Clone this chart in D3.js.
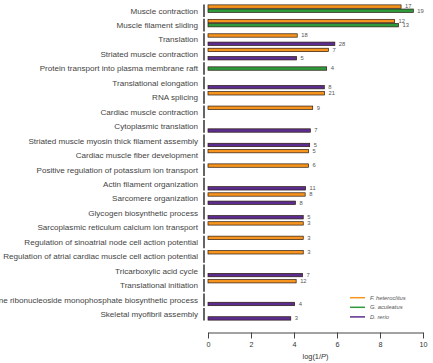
<!DOCTYPE html>
<meta charset="utf-8">
<style>
body { margin: 0; background: #fff; }
text { font-family: "Liberation Sans", Arial, sans-serif; }
</style>
<svg id="chart" width="433" height="363"></svg>
<script src="https://d3js.org/d3.v7.min.js"></script>
<script>

var svg = d3.select("svg#chart");

var categories = [
	"Muscle contraction",
	"Muscle filament sliding",
	"Translation",
	"Striated muscle contraction",
	"Protein transport into plasma membrane raft",
	"Translational elongation",
	"RNA splicing",
	"Cardiac muscle contraction",
	"Cytoplasmic translation",
	"Striated muscle myosin thick filament assembly",
	"Cardiac muscle fiber development",
	"Positive regulation of potassium ion transport",
	"Actin filament organization",
	"Sarcomere organization",
	"Glycogen biosynthetic process",
	"Sarcoplasmic reticulum calcium ion transport",
	"Regulation of sinoatrial node cell action potential",
	"Regulation of atrial cardiac muscle cell action potential",
	"Tricarboxylic acid cycle",
	"Translational initiation",
	"Purine ribonucleoside monophosphate biosynthetic process",
	"Skeletal myofibril assembly"
];

var species = ["F. heteroclitus", "G. aculeatus", "D. rerio"];
var colors = ["#f7941d", "#2e9a3c", "#5c2d8e"];

// log(1/P) per species, null = not enriched
var fValues = [8.98, 8.68, 4.15, 5.6, null, null, 5.42, 4.87, null, null, 4.68, 4.68, null, 4.52, null, 4.43, 4.43, 4.43, null, 4.1, null, null];
var gValues = [9.55, 8.86, null, null, 5.52, null, null, null, null, null, null, null, null, null, null, null, null, null, null, null, null, null];
var dValues = [null, null, 5.9, 4.12, null, 5.41, null, null, 4.76, 4.73, null, null, 4.54, 4.07, 4.43, null, null, null, 4.4, null, 4.03, 3.85];

// gene counts shown next to bars
var fCounts = [17, 12, 18, 7, null, null, 21, 9, null, null, 5, 6, null, 8, null, 3, 3, 3, null, 12, null, null];
var gCounts = [19, 13, null, null, 4, null, null, null, null, null, null, null, null, null, null, null, null, null, null, null, null, null];
var dCounts = [null, null, 28, 5, null, 8, null, null, 7, 5, null, null, 11, 8, 5, null, null, null, 7, null, 4, 3];

var xTicks = [0, 2, 4, 6, 8, 10];

var values = [fValues, gValues, dValues];
var counts = [fCounts, gCounts, dCounts];

var bars = [];
values.forEach(function(vals, s) {
	vals.forEach(function(v, i) {
		if (v != null) bars.push({ cat: categories[i], s: s, v: v, n: counts[s][i] });
	});
});

var x = d3.scaleLinear().domain([0, 10]).range([208, 423]);

var y = d3.scaleBand()
	.domain(categories)
	.range([3.5, 321.5]);

var slot = d3.scaleBand()
	.domain([0, 1, 2])
	.range([1, y.bandwidth() - 1]);

var barH = 3.4;

// segmented y axis
svg.append("g").selectAll("line")
	.data(categories)
	.enter().append("line")
		.attr("x1", 204).attr("x2", 204)
		.attr("y1", function(d) { return y(d) + 0.9; })
		.attr("y2", function(d) { return y(d) + y.bandwidth() - 0.9; })
		.attr("stroke", "#111")
		.attr("stroke-width", 1.3);

svg.append("g").selectAll("text")
	.data(categories)
	.enter().append("text")
		.attr("x", 198)
		.attr("y", function(d) { return y(d) + y.bandwidth() / 2; })
		.attr("dy", "0.35em")
		.attr("text-anchor", "end")
		.attr("font-size", 8.1)
		.attr("fill", "#444")
		.text(function(d) { return d; });

var barY = function(d) { return y(d.cat) + slot(d.s) + slot.bandwidth() / 2; };

svg.append("g").selectAll("rect")
	.data(bars)
	.enter().append("rect")
		.attr("x", x(0))
		.attr("y", function(d) { return barY(d) - barH / 2; })
		.attr("width", function(d) { return x(d.v) - x(0); })
		.attr("height", barH)
		.attr("fill", function(d) { return colors[d.s]; })
		.attr("stroke", "#2a1a10")
		.attr("stroke-width", 0.7);

svg.append("g").selectAll("text")
	.data(bars)
	.enter().append("text")
		.attr("x", function(d) { return x(d.v) + 4; })
		.attr("y", function(d) { return barY(d); })
		.attr("dy", "0.33em")
		.attr("font-size", 5.8)
		.attr("fill", "#555")
		.text(function(d) { return d.n; });

// x axis
var axis = svg.append("g")
	.attr("transform", "translate(0,332.5)")
	.call(d3.axisBottom(x).tickValues(xTicks).tickSize(6).tickSizeOuter(0).tickPadding(3));
axis.select(".domain").attr("stroke", "#444");
axis.selectAll(".tick line").attr("stroke", "#444");
axis.selectAll(".tick text")
	.attr("font-family", "Liberation Sans, Arial, sans-serif")
	.attr("font-size", 7.2)
	.attr("fill", "#333");

var title = svg.append("text")
	.attr("x", x(5))
	.attr("y", 358.5)
	.attr("text-anchor", "middle")
	.attr("font-size", 7.4)
	.attr("fill", "#333");
title.append("tspan").text("log(1/");
title.append("tspan").attr("font-style", "italic").text("P");
title.append("tspan").text(")");

// legend
var legend = svg.append("g").selectAll("g")
	.data(species)
	.enter().append("g")
		.attr("transform", function(d, i) { return "translate(350," + (297.7 + i * 9.6) + ")"; });
legend.append("line")
	.attr("x1", 0).attr("x2", 15)
	.attr("stroke", function(d, i) { return colors[i]; })
	.attr("stroke-width", 1.5);
legend.append("text")
	.attr("x", 20)
	.attr("dy", "0.35em")
	.attr("font-size", 5.8)
	.attr("font-style", "italic")
	.attr("fill", "#555")
	.text(function(d) { return d; });

</script>
